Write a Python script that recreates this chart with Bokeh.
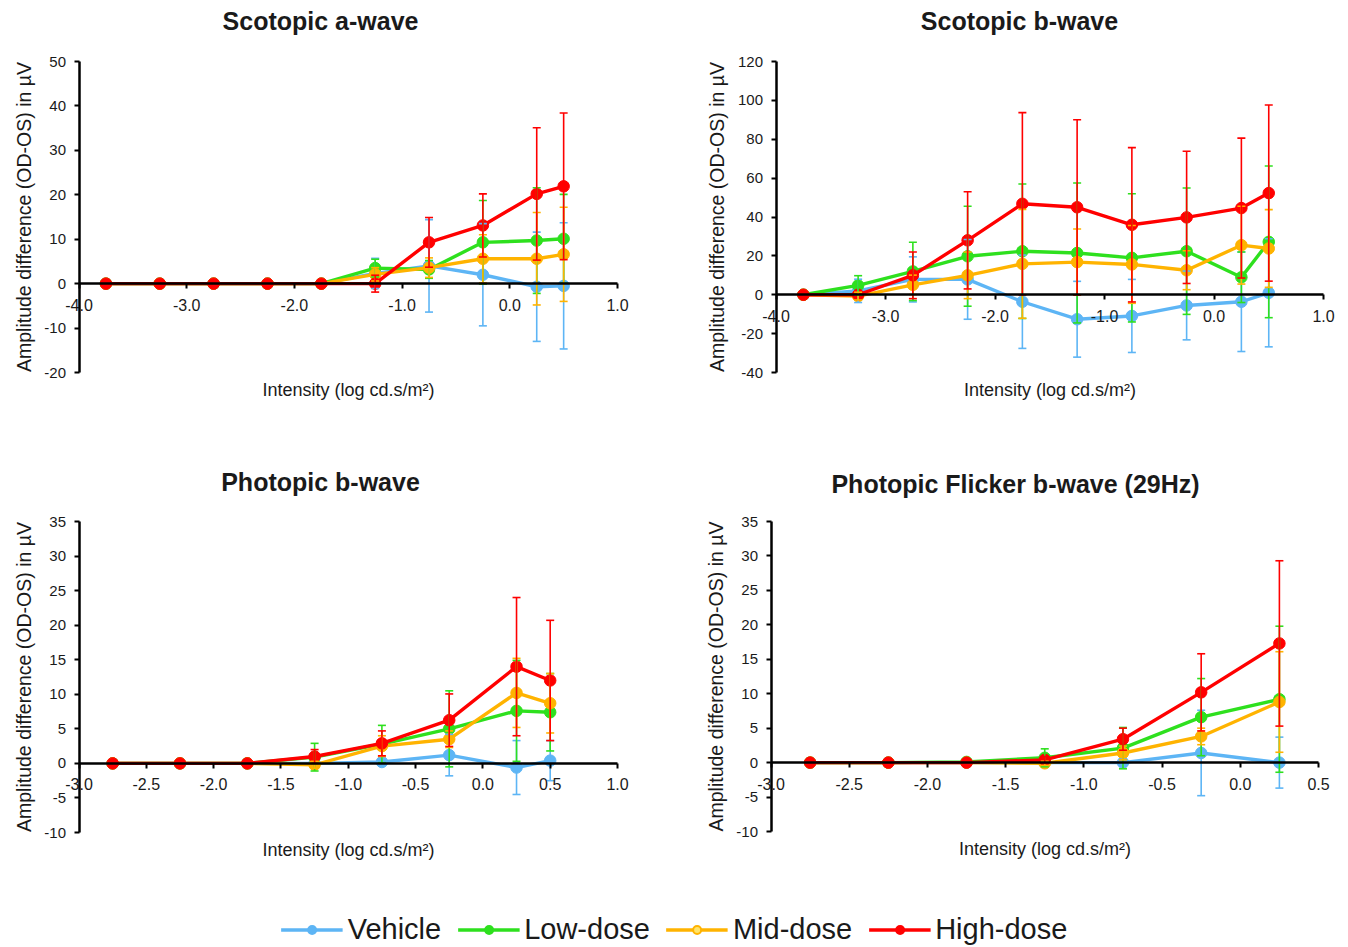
from bokeh.plotting import figure
from bokeh.models import (Range1d, LinearAxis, FixedTicker, Whisker, TeeHead, ColumnDataSource,
                          Legend, LegendItem, PrintfTickFormatter, Label)
from bokeh.layouts import column, row
from bokeh.embed import file_html
from bokeh.resources import INLINE

FONT = "Liberation Sans"
SERIES = ["Vehicle", "Low-dose", "Mid-dose", "High-dose"]
COLORS = ["#5DB5F5", "#2EE01E", "#FFB300", "#FF0000"]

# ---- Scotopic a-wave ----
A_X = [-3.75, -3.25, -2.75, -2.25, -1.75, -1.25, -0.75, -0.25, 0.25, 0.5]
A_VEH = [0, 0, 0, 0, 0, 2.3, 4.0, 2.0, -0.7, -0.5]
A_VEH_ERR = [0, 0, 0, 0, 0, 3.4, 10.4, 11.5, 12.3, 14.2]
A_LOW = [0, 0, 0, 0, 0, 3.5, 3.2, 9.3, 9.7, 10.1]
A_LOW_ERR = [0, 0, 0, 0, 0, 2.0, 2.0, 9.4, 11.9, 10.0]
A_MID = [0, 0, 0, 0, 0, 2.1, 3.6, 5.6, 5.6, 6.6]
A_MID_ERR = [0, 0, 0, 0, 0, 1.5, 2.2, 5.4, 10.4, 10.6]
A_HIGH = [0, 0, 0, 0, 0, 0, 9.3, 13.1, 20.2, 21.9]
A_HIGH_ERR = [0, 0, 0, 0, 0, 1.9, 5.6, 7.1, 14.9, 16.5]

# ---- Scotopic b-wave ----
B_X = [-3.75, -3.25, -2.75, -2.25, -1.75, -1.25, -0.75, -0.25, 0.25, 0.5]
B_VEH = [0, 2.0, 7.9, 7.9, -3.6, -12.6, -10.9, -5.5, -3.6, 1.0]
B_VEH_ERR = [0, 6.0, 11.6, 20.5, 24.0, 19.5, 18.8, 17.7, 25.6, 27.8]
B_LOW = [0, 4.8, 12.0, 19.8, 22.4, 21.5, 19.0, 22.4, 9.0, 27.2]
B_LOW_ERR = [0, 5.0, 15.0, 25.7, 34.6, 36.0, 33.0, 32.5, 13.0, 39.0]
B_MID = [0, -0.7, 5.1, 10.0, 15.9, 16.8, 15.6, 12.6, 25.5, 23.8]
B_MID_ERR = [0, 2.0, 5.0, 12.0, 28.0, 17.0, 20.0, 10.0, 20.0, 20.0]
B_HIGH = [0, 0, 10.0, 28.0, 46.8, 45.0, 36.0, 39.8, 44.6, 52.3]
B_HIGH_ERR = [0, 0, 12.0, 25.0, 46.9, 45.0, 39.7, 34.0, 36.0, 45.3]

# ---- Photopic b-wave ----
C_X = [-2.75, -2.25, -1.75, -1.25, -0.75, -0.25, 0.25, 0.5]
C_VEH = [0, 0, 0, 0, 0.2, 1.2, -0.6, 0.4]
C_VEH_ERR = [0, 0, 0, 0, 0.5, 3.0, 3.9, 2.9]
C_LOW = [0, 0, 0, 0.9, 2.8, 5.0, 7.6, 7.4]
C_LOW_ERR = [0, 0, 0, 2.0, 2.7, 5.5, 7.3, 5.6]
C_MID = [0, 0, 0, -0.2, 2.5, 3.5, 10.2, 8.7]
C_MID_ERR = [0, 0, 0, 0.5, 1.5, 1.2, 5.0, 4.3]
C_HIGH = [0, 0, 0, 1.0, 2.9, 6.25, 14.0, 12.0]
C_HIGH_ERR = [0, 0, 0, 1.0, 1.8, 3.8, 10.0, 8.7]

# ---- Photopic Flicker b-wave (29Hz) ----
D_X = [-2.75, -2.25, -1.75, -1.25, -0.75, -0.25, 0.25]
D_VEH = [0, 0, 0, 0, 0, 1.4, 0]
D_VEH_ERR = [0, 0, 0, 0, 0.5, 6.2, 3.7]
D_LOW = [0, 0, 0.1, 0.7, 2.1, 6.6, 9.2]
D_LOW_ERR = [0, 0, 0, 1.3, 3.0, 5.6, 10.6]
D_MID = [0, 0, 0, -0.1, 1.4, 3.8, 8.8]
D_MID_ERR = [0, 0, 0, 0.3, 1.0, 1.2, 7.3]
D_HIGH = [0, 0, 0, 0.4, 3.4, 10.2, 17.3]
D_HIGH_ERR = [0, 0, 0, 0.5, 1.6, 5.6, 12.0]

A_XTICKS = [-4.0, -3.0, -2.0, -1.0, 0.0, 1.0]
A_YTICKS = [-20, -10, 0, 10, 20, 30, 40, 50]
B_XTICKS = [-4.0, -3.0, -2.0, -1.0, 0.0, 1.0]
B_YTICKS = [-40, -20, 0, 20, 40, 60, 80, 100, 120]
C_XTICKS = [-3.0, -2.5, -2.0, -1.5, -1.0, -0.5, 0.0, 0.5, 1.0]
C_YTICKS = [-10, -5, 0, 5, 10, 15, 20, 25, 30, 35]
D_XTICKS = [-3.0, -2.5, -2.0, -1.5, -1.0, -0.5, 0.0, 0.5]
D_YTICKS = [-10, -5, 0, 5, 10, 15, 20, 25, 30, 35]

X_LABEL = "Intensity (log cd.s/m\u00b2)"
Y_LABEL = "Amplitude difference (OD-OS) in \u00b5V"
TEXT_COLOR = "#1a1a1a"


def make_panel(title, xs, ys, errs, xticks, yticks, W, H, box, title_xy):
    """box = pixel position (left, right, top, bottom) of the axis extents inside the figure."""
    xmin, xmax = xticks[0], xticks[-1]
    ymin, ymax = yticks[0], yticks[-1]
    L, R, T, B = box
    kx = (xmax - xmin) / (R - L)
    ky = (ymax - ymin) / (B - T)
    p = figure(width=W, height=H,
               x_range=Range1d(xmin - L * kx, xmax + (W - R) * kx),
               y_range=Range1d(ymin - (H - B) * ky, ymax + T * ky),
               output_backend="svg", toolbar_location=None,
               x_axis_location=None, y_axis_location=None,
               min_border_left=0, min_border_right=0, min_border_top=0, min_border_bottom=0,
               outline_line_color=None, background_fill_color="white", border_fill_color="white")
    p.grid.visible = False

    p.add_layout(Label(x=title_xy[0], y=H - title_xy[1], x_units="screen", y_units="screen",
                       text=title, text_align="center", text_baseline="middle",
                       text_font=FONT, text_font_size="25px", text_font_style="bold",
                       text_color=TEXT_COLOR))

    # y axis at x = xmin
    ya = LinearAxis(fixed_location=xmin, bounds=(ymin, ymax), ticker=FixedTicker(ticks=yticks),
                    formatter=PrintfTickFormatter(format="%d"),
                    axis_line_width=2.5, axis_line_color="black",
                    major_tick_in=0, major_tick_out=5, major_tick_line_width=2,
                    minor_tick_line_color=None, major_label_standoff=8,
                    major_label_text_font=FONT, major_label_text_font_size="15px",
                    major_label_text_color=TEXT_COLOR,
                    axis_label=Y_LABEL, axis_label_text_font=FONT,
                    axis_label_text_font_size="19.5px", axis_label_text_font_style="normal",
                    axis_label_text_color=TEXT_COLOR, axis_label_standoff=7)
    p.add_layout(ya, "left")

    # axis title below the plot area
    lab = LinearAxis(fixed_location=ymin, bounds=(xmin, xmax), ticker=FixedTicker(ticks=[]),
                     axis_line_color=None, major_tick_line_color=None, major_tick_out=0,
                     minor_tick_line_color=None,
                     axis_label=X_LABEL, axis_label_text_font=FONT,
                     axis_label_text_font_size="18px", axis_label_text_font_style="normal",
                     axis_label_text_color=TEXT_COLOR, axis_label_standoff=7)
    p.add_layout(lab, "below")

    # x axis drawn at y = 0
    xa = LinearAxis(fixed_location=0, bounds=(xmin, xmax), ticker=FixedTicker(ticks=xticks),
                    formatter=PrintfTickFormatter(format="%.1f"),
                    axis_line_width=2.5, axis_line_color="black",
                    major_tick_in=0, major_tick_out=5, major_tick_line_width=2,
                    minor_tick_line_color=None, major_label_standoff=10,
                    major_label_text_font=FONT, major_label_text_font_size="16px",
                    major_label_text_color=TEXT_COLOR)
    p.add_layout(xa, "below")

    for name, color, y, e in zip(SERIES, COLORS, ys, errs):
        ex = [xx for xx, ee in zip(xs, e) if ee > 0]
        up = [yy + ee for yy, ee in zip(y, e) if ee > 0]
        lo = [yy - ee for yy, ee in zip(y, e) if ee > 0]
        src = ColumnDataSource(dict(x=ex, upper=up, lower=lo))
        w = Whisker(source=src, base="x", upper="upper", lower="lower",
                    line_color=color, line_width=1.6, level="glyph",
                    upper_head=TeeHead(size=8, line_color=color, line_width=1.6),
                    lower_head=TeeHead(size=8, line_color=color, line_width=1.6))
        p.add_layout(w)
    for name, color, y in zip(SERIES, COLORS, ys):
        p.line(xs, y, line_color=color, line_width=3.4)
        p.scatter(xs, y, size=11.5, fill_color=color, line_color=color)
    return p


p1 = make_panel("Scotopic a-wave", A_X, [A_VEH, A_LOW, A_MID, A_HIGH],
                [A_VEH_ERR, A_LOW_ERR, A_MID_ERR, A_HIGH_ERR], A_XTICKS, A_YTICKS,
                690, 440, (78.5, 617, 61, 372), (320, 20))
p2 = make_panel("Scotopic b-wave", B_X, [B_VEH, B_LOW, B_MID, B_HIGH],
                [B_VEH_ERR, B_LOW_ERR, B_MID_ERR, B_HIGH_ERR], B_XTICKS, B_YTICKS,
                658, 440, (85.5, 633, 61, 372), (329, 20))
p3 = make_panel("Photopic b-wave", C_X, [C_VEH, C_LOW, C_MID, C_HIGH],
                [C_VEH_ERR, C_LOW_ERR, C_MID_ERR, C_HIGH_ERR], C_XTICKS, C_YTICKS,
                690, 462, (78.5, 617, 81, 392), (320, 41))
p4 = make_panel("Photopic Flicker b-wave (29Hz)", D_X, [D_VEH, D_LOW, D_MID, D_HIGH],
                [D_VEH_ERR, D_LOW_ERR, D_MID_ERR, D_HIGH_ERR], D_XTICKS, D_YTICKS,
                658, 462, (80.5, 628, 81, 391), (325, 43))

# legend strip (its renderers sit outside the visible range; only legend glyphs show)
pl = figure(width=1348, height=45, x_range=Range1d(0, 1), y_range=Range1d(1000, 1001),
            output_backend="svg", toolbar_location=None,
            x_axis_location=None, y_axis_location=None, outline_line_color=None,
            min_border_left=0, min_border_right=0, min_border_bottom=0, min_border_top=9)
pl.grid.visible = False
items = []
for name, color, y in zip(SERIES, COLORS, [A_VEH, A_LOW, A_MID, A_HIGH]):
    lr = pl.line(A_X, y, line_color=color, line_width=3.4)
    fill = "#FFE46A" if name == "Mid-dose" else color
    sr = pl.scatter(A_X, y, size=11.5, fill_color=fill, line_color=color, line_width=2)
    items.append(LegendItem(label=name, renderers=[lr, sr]))
leg = Legend(items=items, orientation="horizontal", location="center",
             label_text_font=FONT, label_text_font_size="29px", label_text_color=TEXT_COLOR,
             glyph_width=62, glyph_height=20, label_standoff=5, spacing=16,
             border_line_color=None, background_fill_alpha=0, padding=0, margin=0)
pl.add_layout(leg, "center")

layout = column(row(p1, p2), row(p3, p4), pl)
open("out.html", "w").write(file_html(layout, INLINE))
